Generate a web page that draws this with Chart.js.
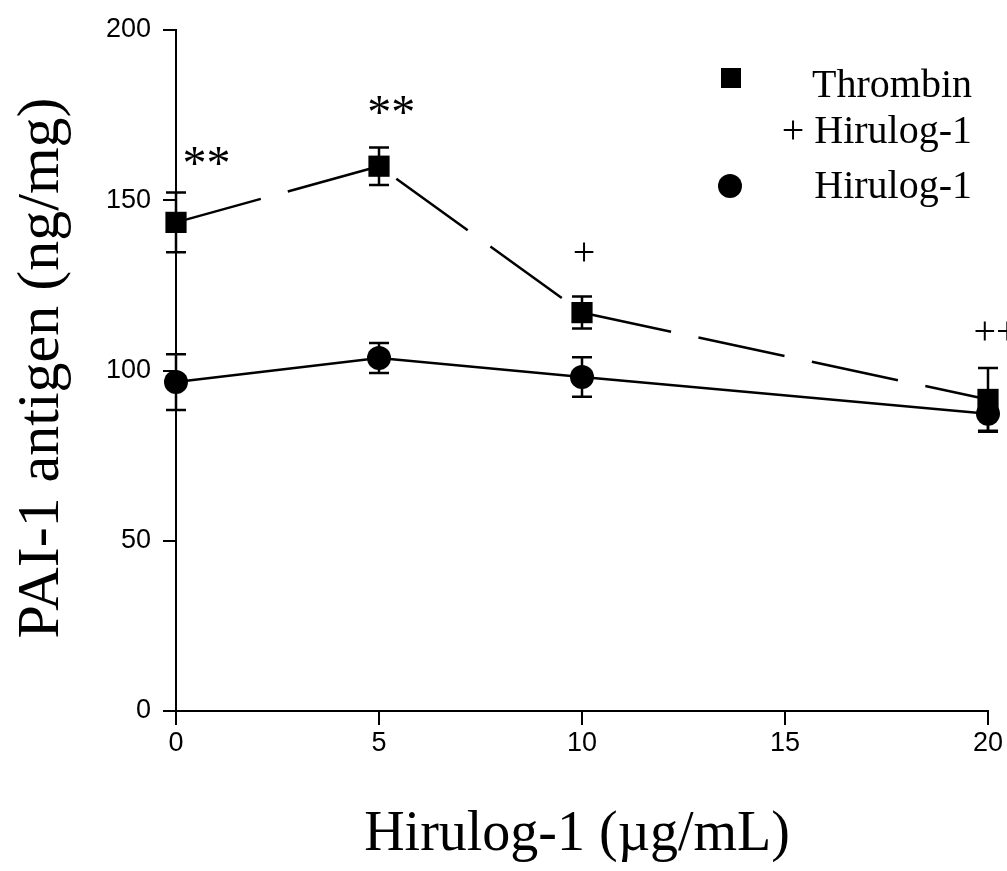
<!DOCTYPE html>
<html>
<head>
<meta charset="utf-8">
<script src="https://cdn.jsdelivr.net/npm/chart.js@4.4.1/dist/chart.umd.min.js"></script>
<style>
  html, body { margin: 0; padding: 0; background: #fff; }
  #wrap { width: 1007px; height: 871px; }
</style>
</head>
<body>
<div id="wrap"><canvas id="chart" width="1007" height="871"></canvas></div>
<script>
/* -------- DATA -------- */
const doses = [0, 5, 10, 20];
const thrombinMean = [143.5, 160, 117, 91.5];
const thrombinErr = [8.8, 5.5, 4.7, 9.2];
const hirulogMean = [96.6, 103.7, 98.1, 87.3];
const hirulogErr = [8.2, 4.4, 5.8, 5.3];
const xTicks = [0, 5, 10, 15, 20];
const yTicks = [0, 50, 100, 150, 200];

// significance marks above the points
const markText = ["**", "**", "+", "++"];
const markX = [0.75, 5.3, 10.05, 20.2];
const markY = [160, 175, 134, 111];

const serif = "'Liberation Serif', 'DejaVu Serif', serif";
const sans = "'Liberation Sans', Arial, sans-serif";

/* -------- ERROR BARS + TEXT PLUGIN -------- */
const extras = {
    id: "extras",
    beforeDatasetsDraw(chart) {
        const ctx = chart.ctx;
        const xs = chart.scales.x, ys = chart.scales.y;
        const sets = [[thrombinMean, thrombinErr], [hirulogMean, hirulogErr]];
        ctx.save();
        ctx.strokeStyle = "#000";
        ctx.lineWidth = 2.5;
        sets.forEach(([m, e]) => {
            doses.forEach((d, i) => {
                const px = xs.getPixelForValue(d);
                const top = ys.getPixelForValue(m[i] + e[i]);
                const bot = ys.getPixelForValue(m[i] - e[i]);
                ctx.beginPath();
                ctx.moveTo(px, top); ctx.lineTo(px, bot);
                ctx.moveTo(px - 10, top); ctx.lineTo(px + 10, top);
                ctx.moveTo(px - 10, bot); ctx.lineTo(px + 10, bot);
                ctx.stroke();
            });
        });
        ctx.restore();
    },
    afterDraw(chart) {
        const ctx = chart.ctx;
        const xs = chart.scales.x, ys = chart.scales.y;
        ctx.save();
        ctx.fillStyle = "#000";

        // significance marks
        ctx.textAlign = "center";
        ctx.textBaseline = "middle";
        markText.forEach((t, i) => {
            ctx.font = (t.startsWith("*") ? "48px " : "40px ") + serif;
            ctx.fillText(t, xs.getPixelForValue(markX[i]), ys.getPixelForValue(markY[i]));
        });

        // legend
        ctx.font = "40px " + serif;
        ctx.textAlign = "right";
        ctx.textBaseline = "alphabetic";
        ctx.fillText("Thrombin", 972, 97);
        ctx.fillText("+ Hirulog-1", 972, 143);
        ctx.fillText("Hirulog-1", 972, 198);
        ctx.fillRect(721, 68, 20, 20);
        ctx.beginPath();
        ctx.arc(730, 186, 12, 0, Math.PI * 2);
        ctx.fill();

        // axis titles
        ctx.font = "56px " + serif;
        ctx.textAlign = "center";
        ctx.fillText("Hirulog-1 (\u00b5g/mL)", 577, 850);
        ctx.save();
        ctx.translate(58, 368);
        ctx.rotate(-Math.PI / 2);
        ctx.font = "60px " + serif;
        ctx.fillText("PAI-1 antigen (ng/mg)", 0, 0);
        ctx.restore();

        ctx.restore();
    }
};

/* -------- CHART -------- */
new Chart(document.getElementById("chart"), {
    type: "line",
    data: {
        datasets: [{
            label: "Thrombin + Hirulog-1",
            data: doses.map((d, i) => ({ x: d, y: thrombinMean[i] })),
            borderColor: "#000",
            borderWidth: 2.5,
            segment: { borderDash: () => [88, 28] },   // restart dash at every point
            pointStyle: "rect",
            pointRadius: 15,
            pointBackgroundColor: "#000",
            pointBorderWidth: 0,
            tension: 0,
            clip: false
        }, {
            label: "Hirulog-1",
            data: doses.map((d, i) => ({ x: d, y: hirulogMean[i] })),
            borderColor: "#000",
            borderWidth: 2.5,
            pointStyle: "circle",
            pointRadius: 12,
            pointBackgroundColor: "#000",
            pointBorderWidth: 0,
            tension: 0,
            clip: false
        }]
    },
    options: {
        responsive: false,
        animation: false,
        layout: { padding: { top: 30, right: 19, left: 0, bottom: 0 } },
        plugins: { legend: { display: false }, tooltip: { enabled: false } },
        scales: {
            x: {
                type: "linear",
                min: 0, max: 20,
                afterBuildTicks: s => { s.ticks = xTicks.map(v => ({ value: v })); },
                afterFit: s => { s.height = 160; },
                ticks: { color: "#000", font: { family: sans, size: 27 }, padding: 2, maxRotation: 0 },
                grid: { display: true, drawOnChartArea: false, drawTicks: true, tickLength: 14, color: "#000", lineWidth: 2 },
                border: { display: true, color: "#000", width: 2 }
            },
            y: {
                min: 0, max: 200,
                afterBuildTicks: s => { s.ticks = yTicks.map(v => ({ value: v })); },
                afterFit: s => { s.width = 176; },
                ticks: { color: "#000", font: { family: sans, size: 27 }, padding: 12 },
                grid: { display: true, drawOnChartArea: false, drawTicks: true, tickLength: 13, color: "#000", lineWidth: 2 },
                border: { display: true, color: "#000", width: 2 }
            }
        }
    },
    plugins: [extras]
});
</script>
</body>
</html>
